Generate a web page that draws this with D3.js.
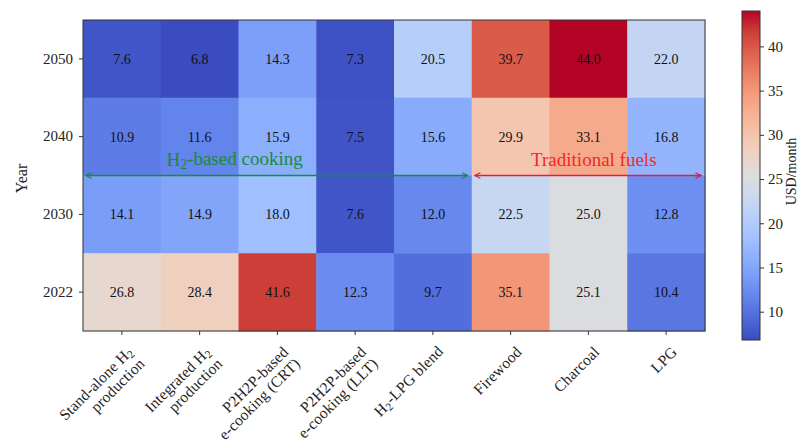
<!DOCTYPE html>
<html>
<head>
<meta charset="utf-8">
<script src="https://cdn.jsdelivr.net/npm/d3@7"></script>
<style>
  html, body { margin: 0; padding: 0; background: #fff; }
  svg { display: block; font-family: "Liberation Serif", "Times New Roman", serif; }
</style>
</head>
<body>
<svg id="chart" width="800" height="446"></svg>
<script>
// Monthly cooking cost (USD/month) by technology and year
const years = ["2050", "2040", "2030", "2022"];
const technologies = [
  ["Stand-alone H₂", "production"],
  ["Integrated H₂", "production"],
  ["P2H2P-based", "e-cooking (CRT)"],
  ["P2H2P-based", "e-cooking (LLT)"],
  ["H₂-LPG blend"],
  ["Firewood"],
  ["Charcoal"],
  ["LPG"]
];
const costs2050 = [7.6, 6.8, 14.3, 7.3, 20.5, 39.7, 44.0, 22.0];
const costs2040 = [10.9, 11.6, 15.9, 7.5, 15.6, 29.9, 33.1, 16.8];
const costs2030 = [14.1, 14.9, 18.0, 7.6, 12.0, 22.5, 25.0, 12.8];
const costs2022 = [26.8, 28.4, 41.6, 12.3, 9.7, 35.1, 25.1, 10.4];
const colorbarTicks = [10, 15, 20, 25, 30, 35, 40];
const colorbarLabel = "USD/month";
const yAxisLabel = "Year";

// Technology groups marked with double-headed arrows
const groupLabels = ["H₂-based cooking", "Traditional fuels"];
const groupFirst = [0, 5];
const groupLast = [4, 7];

// coolwarm colour table
const coolwarm = [
  "#3b4cc0", "#4d68d7", "#6282ea", "#779af7", "#8db0fe", "#a3c2ff",
  "#b8d0f9", "#ccd9ee", "#dddddd", "#ecd3c5", "#f5c4ad", "#f7b194",
  "#f49a7b", "#ec7f63", "#de604d", "#cb3e38", "#b40426"
];

const rows = [costs2050, costs2040, costs2030, costs2022];
const cells = [];
rows.forEach((r, i) => r.forEach((v, j) => cells.push({ row: i, col: j, value: v })));

const svg = d3.select("#chart");
const plotLeft = 83, plotTop = 20, plotRight = 705, plotBottom = 331;

const x = d3.scaleBand().domain(d3.range(technologies.length)).range([plotLeft, plotRight]);
const y = d3.scaleBand().domain(d3.range(years.length)).range([plotTop, plotBottom]);
// continuous positions in cell units (cell centres at integer values)
const xPos = d3.scaleLinear().domain([-0.5, technologies.length - 0.5]).range([plotLeft, plotRight]);
const yPos = d3.scaleLinear().domain([-0.5, years.length - 0.5]).range([plotTop, plotBottom]);

const vmin = d3.min(cells, d => d.value), vmax = d3.max(cells, d => d.value);
const color = d3.scaleLinear()
  .domain(coolwarm.map((_, i) => vmin + (vmax - vmin) * i / (coolwarm.length - 1)))
  .range(coolwarm)
  .interpolate(d3.interpolateRgb);

// draw text containing "₂" with a real subscript
function richText(sel, str) {
  const parts = str.split("₂");
  parts.forEach((p, i) => {
    if (p) sel.append("tspan").attr("dy", i > 0 ? "-0.22em" : null).text(p);
    if (i < parts.length - 1) {
      sel.append("tspan").attr("font-size", "72%").attr("dy", "0.22em").text("2");
    }
  });
}

// heatmap cells
svg.append("g").selectAll("rect").data(cells).join("rect")
  .attr("x", d => x(d.col))
  .attr("y", d => y(d.row))
  .attr("width", x.bandwidth() + 0.5)
  .attr("height", y.bandwidth() + 0.5)
  .attr("fill", d => color(d.value));

svg.append("g").selectAll("text").data(cells).join("text")
  .attr("x", d => x(d.col) + x.bandwidth() / 2)
  .attr("y", d => y(d.row) + y.bandwidth() / 2)
  .attr("dy", "0.35em")
  .attr("text-anchor", "middle")
  .attr("font-size", 14)
  .attr("fill", "#111")
  .text(d => d.value.toFixed(1));

// frame
svg.append("rect")
  .attr("x", plotLeft).attr("y", plotTop)
  .attr("width", plotRight - plotLeft).attr("height", plotBottom - plotTop)
  .attr("fill", "none").attr("stroke", "#333").attr("stroke-width", 1);

// y axis
const yAxis = svg.append("g")
  .attr("transform", `translate(${plotLeft},0)`)
  .call(d3.axisLeft(y).tickSize(4).tickPadding(6).tickFormat(i => years[i]));
yAxis.select(".domain").remove();
yAxis.selectAll(".tick line").attr("stroke", "#333");
yAxis.selectAll(".tick text").attr("font-size", 15).attr("font-family", "Liberation Serif").attr("fill", "#222");

svg.append("text")
  .attr("transform", `translate(27,${(plotTop + plotBottom) / 2 + 3}) rotate(-90)`)
  .attr("text-anchor", "middle")
  .attr("font-size", 16)
  .attr("fill", "#222")
  .text(yAxisLabel);

// x axis
const xAxis = svg.append("g")
  .attr("transform", `translate(0,${plotBottom})`)
  .call(d3.axisBottom(x).tickSize(4).tickFormat(""));
xAxis.select(".domain").remove();
xAxis.selectAll(".tick line").attr("stroke", "#333");

const xl = svg.append("g").selectAll("g").data(technologies).join("g")
  .attr("transform", (d, i) => `translate(${x(i) + x.bandwidth() / 2},${plotBottom}) rotate(-45)`);
xl.each(function (lines) {
  const g = d3.select(this);
  lines.forEach((ln, k) => {
    const t = g.append("text")
      .attr("x", -7)
      .attr("y", 24 + k * 16.5)
      .attr("text-anchor", "end")
      .attr("font-size", 15.5)
      .attr("letter-spacing", 0.15)
      .attr("fill", "#222");
    richText(t, ln);
  });
});

// group arrows and labels
const defs = svg.append("defs");
const groupColors = ["#1a8a3a", "#f02828"];
const arrowColors = ["#1a8a3a", "#e0203a"];
const arrowY = yPos(1.5);
groupLabels.forEach((lbl, i) => {
  const c = arrowColors[i];
  const id = "head" + i;
  defs.append("marker")
    .attr("id", id).attr("viewBox", "0 0 10 10")
    .attr("refX", 9).attr("refY", 5)
    .attr("markerWidth", 7).attr("markerHeight", 7)
    .attr("orient", "auto-start-reverse")
    .attr("markerUnits", "userSpaceOnUse")
    .append("path").attr("d", "M1,1 L9,5 L1,9")
    .attr("fill", "none").attr("stroke", c).attr("stroke-width", 1.6);
  const x0 = xPos(groupFirst[i] - 0.5) + 3;
  const x1 = xPos(groupLast[i] + 0.5) - 4;
  svg.append("line")
    .attr("x1", x0).attr("x2", x1).attr("y1", arrowY).attr("y2", arrowY)
    .attr("stroke", c).attr("stroke-width", 1.5)
    .attr("marker-start", `url(#${id})`).attr("marker-end", `url(#${id})`);
  const tx = i === 0 ? xPos(1.45) : xPos(6.07);
  const t = svg.append("text")
    .attr("x", tx).attr("y", yPos(1.38))
    .attr("text-anchor", "middle")
    .attr("font-size", 19)
    .attr("fill", groupColors[i]);
  richText(t, lbl);
});

// colorbar
const cbX = 742, cbW = 18, cbTop = 11, cbBottom = 340;
const cbScale = d3.scaleLinear().domain([vmin, vmax]).range([cbBottom, cbTop]);
const grad = defs.append("linearGradient").attr("id", "cbgrad")
  .attr("x1", 0).attr("y1", 1).attr("x2", 0).attr("y2", 0);
grad.selectAll("stop").data(coolwarm).join("stop")
  .attr("offset", (d, i) => i / (coolwarm.length - 1))
  .attr("stop-color", d => d);
svg.append("rect")
  .attr("x", cbX).attr("y", cbTop).attr("width", cbW).attr("height", cbBottom - cbTop)
  .attr("fill", "url(#cbgrad)").attr("stroke", "#333").attr("stroke-width", 1);
const cbAxis = svg.append("g")
  .attr("transform", `translate(${cbX + cbW},0)`)
  .call(d3.axisRight(cbScale).tickValues(colorbarTicks).tickSize(4).tickPadding(4));
cbAxis.select(".domain").remove();
cbAxis.selectAll(".tick line").attr("stroke", "#333");
cbAxis.selectAll(".tick text").attr("font-size", 15).attr("font-family", "Liberation Serif").attr("fill", "#222");
svg.append("text")
  .attr("transform", `translate(796,${(cbTop + cbBottom) / 2 - 4}) rotate(-90)`)
  .attr("text-anchor", "middle")
  .attr("font-size", 14)
  .attr("fill", "#222")
  .text(colorbarLabel);
</script>
</body>
</html>
